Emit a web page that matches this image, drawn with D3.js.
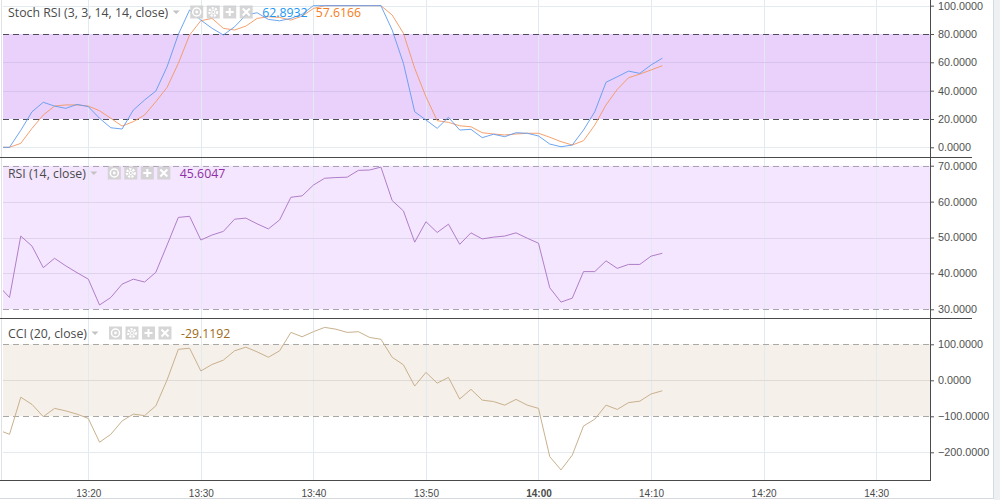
<!DOCTYPE html>
<html><head><meta charset="utf-8">
<script src="https://cdn.jsdelivr.net/npm/d3@7/dist/d3.min.js"></script>
<style>
html,body{margin:0;padding:0;background:#fff;}
svg{display:block;}
</style></head>
<body>
<svg id="chart" width="1000" height="500"></svg>
<script>
// ---------------- data ----------------
const startTime = "13:12";            // first bar (one bar per minute)
const stochK = [0,0,12,25.1,31.8,29.1,27.5,30.3,28.7,20.5,13.8,12.9,26.3,33.4,39.7,56.9,79.7,97,89.8,84,79.3,85.1,93.4,95,90.3,89.3,91,94,100,100,100,100,100,100,100,82.8,59.3,25.1,19.3,13.4,21.2,12.2,12.7,6.8,9.2,7.5,10.3,9.9,8,2.3,0.4,1.6,12.2,25.1,45.9,49.8,53.8,52.2,58.1,62.8932];
const stochD = [0,0,2.8,13.4,22.8,29.1,29.9,29.9,29.1,25.8,20.5,15,18.1,22.8,32.2,42.3,59.3,79.3,89.4,91,84,82.8,85.6,91,92.2,91.7,89.8,92.7,98,100,100,100,100,100,100,93.4,80.5,55.8,35.7,18.8,17.6,15.2,14.5,10.3,9.4,8.7,9.4,9.9,9.9,7.1,4,1.6,4.7,15.7,29.9,40.9,49.1,51.7,54.6,57.6166];
const rsiValues = [36.6,33.3,50.4,47.6,41.6,44.2,42.1,40.2,38.4,31.2,33.3,37.0,38.4,37.6,40.3,47.9,55.6,55.9,49.3,50.7,51.7,55.1,55.4,53.8,52.4,54.9,61.2,61.6,64.6,66.5,66.7,66.8,68.7,68.8,69.6,60.3,57.4,48.7,54.4,51.4,53.7,48.1,51.3,49.6,50.1,50.4,51.3,49.8,48.4,36.0,32.0,33.1,40.5,40.5,43.5,41.4,42.5,42.5,44.8,45.6047];
const cciValues = [-138,-150,-47,-67,-101,-78,-85,-94,-106,-172,-150,-113,-94,-98,-71,1,86,89,26,44,56,82,92,79,64,82,133,121,135,147,142,133,135,119,114,64,43,-16,22,-8,8,-52,-25,-55,-59,-69,-53,-69,-78,-212,-249,-208,-127,-108,-69,-81,-62,-58,-38,-29.1192];

const timeTickLabels = ["13:20","13:30","13:40","13:50","14:00","14:10","14:20","14:30"];
const stochTicks = [0,20,40,60,80,100];
const rsiTicks = [30,40,50,60,70];
const cciTicks = [-200,-100,0,100];
const stochBand = [20,80];
const rsiBand = [30,70];
const cciBand = [-100,100];
const legendStoch = {title:"Stoch RSI (3, 3, 14, 14, close)", values:["62.8932","57.6166"]};
const legendRsi = {title:"RSI (14, close)", values:["45.6047"]};
const legendCci = {title:"CCI (20, close)", values:["-29.1192"]};

// ---------------- helpers ----------------
const parseHM = s => { const [h,m] = s.split(":").map(Number); return new Date(2018,0,1,h,m); };
const t0 = parseHM(startTime);
const times = stochK.map((_,i) => new Date(t0.getTime() + i*60000));

const svg = d3.select("#chart");
const W = 1000, H = 500;
const plotL = 3, plotR = 930;

const x = d3.scaleTime()
  .domain([parseHM("13:20"), parseHM("14:11")])
  .range([88.3, 662.3]);

const panels = [
  {top:0, bottom:157, y: d3.scaleLinear().domain([0,100]).range([147.3,5.67])},
  {top:158, bottom:318, y: d3.scaleLinear().domain([30,70]).range([309.3,165.7])},
  {top:319, bottom:480, y: d3.scaleLinear().domain([-100,100]).range([416.3,344.3])}
];

// background
svg.append("rect").attr("x",0).attr("y",0).attr("width",W).attr("height",H).attr("fill","#fff");
svg.append("rect").attr("x",994).attr("y",0).attr("width",6).attr("height",H).attr("fill","#eef1f4");
svg.append("line").attr("x1",993.5).attr("x2",993.5).attr("y1",0).attr("y2",499).attr("stroke","#d6dade");
svg.append("line").attr("x1",0).attr("x2",994).attr("y1",498.5).attr("y2",498.5).attr("stroke","#d6dade");
svg.append("line").attr("x1",1.5).attr("x2",1.5).attr("y1",0).attr("y2",480).attr("stroke","#dfe3e6");

// clip paths
const defs = svg.append("defs");
panels.forEach((p,i)=>{
  defs.append("clipPath").attr("id","clip"+i).append("rect")
    .attr("x",plotL).attr("y",p.top).attr("width",plotR-plotL).attr("height",p.bottom-p.top);
});

const tickTimes = timeTickLabels.map(parseHM);

function drawPanel(i, cfg){
  const p = panels[i], y = p.y;
  const g = svg.append("g").attr("clip-path","url(#clip"+i+")");
  // band
  g.append("rect").attr("x",plotL).attr("width",plotR-plotL)
    .attr("y",y(cfg.band[1])).attr("height",y(cfg.band[0])-y(cfg.band[1]))
    .attr("fill",cfg.bandFill);
  // vertical grid
  g.selectAll(null).data(tickTimes).enter().append("line")
    .attr("x1",d=>Math.round(x(d))+0.5).attr("x2",d=>Math.round(x(d))+0.5)
    .attr("y1",p.top).attr("y2",p.bottom).attr("stroke",cfg.vgrid||"#e1eaf0");
  // horizontal grid
  g.selectAll(null).data(cfg.ticks.filter(t=>t!==cfg.band[0]&&t!==cfg.band[1])).enter().append("line")
    .attr("x1",plotL).attr("x2",plotR)
    .attr("y1",d=>Math.round(y(d))+0.5).attr("y2",d=>Math.round(y(d))+0.5)
    .attr("stroke",d=> (d>cfg.band[0]&&d<cfg.band[1]) ? cfg.innerGrid : "#e4ebf0");
  // dashed band bounds
  g.selectAll(null).data(cfg.band).enter().append("line")
    .attr("x1",plotL).attr("x2",plotR)
    .attr("y1",d=>Math.round(y(d))+0.5).attr("y2",d=>Math.round(y(d))+0.5)
    .attr("stroke",cfg.dashColor).attr("stroke-dasharray",cfg.dash);
  // series
  cfg.series.forEach(s=>{
    g.append("path").datum(s.values)
      .attr("fill","none").attr("stroke",s.color).attr("stroke-width",1)
      .attr("stroke-linejoin","round")
      .attr("d", d3.line().x((d,k)=>x(times[k])).y(d=>y(d)));
  });
  // right axis
  const ax = svg.append("g").attr("transform",`translate(${plotR},0)`)
    .call(d3.axisRight(y).tickValues(cfg.ticks).tickSize(4).tickPadding(4).tickFormat(d3.format(".4f")));
  ax.select(".domain").remove();
  ax.selectAll("line").attr("stroke","#555");
  ax.selectAll("text").attr("fill","#505050").style("font-family","'Liberation Sans', Arial, sans-serif").style("font-size","10.8px");
  // legend
  const lg = svg.append("g").attr("transform",`translate(8,${p.top+cfg.legendY})`);
  const title = lg.append("text").text(cfg.legend.title).attr("x",0).attr("y",0)
    .attr("dominant-baseline","central").attr("fill","#4a4a4a")
    .style("font-family","'Open Sans', sans-serif").style("font-size","12.3px");
  const tw = title.node().getComputedTextLength();
  let cx = tw + 8;
  lg.append("path").attr("d",`M${cx-3.5},-1.5 L${cx+3.5},-1.5 L${cx},2 Z`).attr("fill","#c3c3c3");
  cx += 14;
  const icons = ["eye","gear","plus","x"];
  icons.forEach((ic,k)=>{
    const gx = cx + k*16.5;
    const ig = lg.append("g").attr("transform",`translate(${gx},-6.5)`);
    ig.append("rect").attr("width",13).attr("height",13).attr("fill","#cfcfcf").attr("opacity",0.85);
    const c = "#fff";
    if(ic==="eye"){
      ig.append("circle").attr("cx",6.5).attr("cy",6.5).attr("r",4).attr("fill","none").attr("stroke",c).attr("stroke-width",1.5);
      ig.append("circle").attr("cx",6.5).attr("cy",6.5).attr("r",1.4).attr("fill",c);
    } else if(ic==="gear"){
      ig.append("circle").attr("cx",6.5).attr("cy",6.5).attr("r",3.8).attr("fill","none").attr("stroke",c).attr("stroke-width",2.4).attr("stroke-dasharray","2,1.2");
      ig.append("circle").attr("cx",6.5).attr("cy",6.5).attr("r",2).attr("fill",c);
      ig.append("circle").attr("cx",6.5).attr("cy",6.5).attr("r",1).attr("fill","#cfcfcf");
    } else if(ic==="plus"){
      ig.append("path").attr("d","M6.5,2.5V10.5M2.5,6.5H10.5").attr("stroke",c).attr("stroke-width",2);
    } else {
      ig.append("path").attr("d","M3,3L10,10M10,3L3,10").attr("stroke",c).attr("stroke-width",2);
    }
  });
  cx += icons.length*16.5 + 6;
  cfg.legend.values.forEach((v,k)=>{
    const t = lg.append("text").text(v).attr("x",cx).attr("y",0).attr("dominant-baseline","central")
      .attr("fill",cfg.valueColors[k]).style("font-family","'Open Sans', sans-serif").style("font-size","12.3px");
    cx += t.node().getComputedTextLength() + 8;
  });
}

drawPanel(0,{
  band:stochBand, bandFill:"#e9d1fb", innerGrid:"#d8c2ee", dashColor:"#4e4e58", dash:"6,4",
  ticks:stochTicks, legend:legendStoch, legendY:12,
  valueColors:["#2196f3","#f57c20"],
  series:[{values:stochD,color:"rgba(244,150,95,0.9)"},{values:stochK,color:"rgba(95,155,240,0.9)"}]
});
drawPanel(1,{
  band:rsiBand, bandFill:"#f4e6fe", innerGrid:"#dfd2ec", dashColor:"#a9a5ae", dash:"6,4",
  ticks:rsiTicks, legend:legendRsi, legendY:15,
  valueColors:["#8e2fa3"],
  series:[{values:rsiValues,color:"#b07ec8"}]
});
drawPanel(2,{
  band:cciBand, bandFill:"#f5f0e9", innerGrid:"#dedbd6", dashColor:"#aaa8a6", dash:"6,4",
  ticks:cciTicks, legend:legendCci, legendY:14,
  valueColors:["#9e6a16"],
  series:[{values:cciValues,color:"#c9b18e"}]
});

// panel separators & frame
[157.5, 318.5].forEach(yy=>{
  svg.append("line").attr("x1",0).attr("x2",972).attr("y1",yy).attr("y2",yy).attr("stroke","#4a4a4a");
});
svg.append("line").attr("x1",0).attr("x2",plotR+0.5).attr("y1",480.5).attr("y2",480.5).attr("stroke","#4a4a4a");
svg.append("line").attr("x1",plotR+0.5).attr("x2",plotR+0.5).attr("y1",0).attr("y2",481).attr("stroke","#4a4a4a");

// time axis
const xa = svg.append("g").attr("transform","translate(0,480)")
  .call(d3.axisBottom(x).tickValues(tickTimes).tickSize(0).tickPadding(10)
    .tickFormat((d,i)=>timeTickLabels[i]));
xa.select(".domain").remove();
xa.selectAll("text").attr("fill","#4a4a4a")
  .style("font-family","'Liberation Sans', Arial, sans-serif").style("font-size","10px")
  .style("font-weight",(d,i)=>timeTickLabels[i]==="14:00"?"bold":"normal");
</script>
</body></html>
